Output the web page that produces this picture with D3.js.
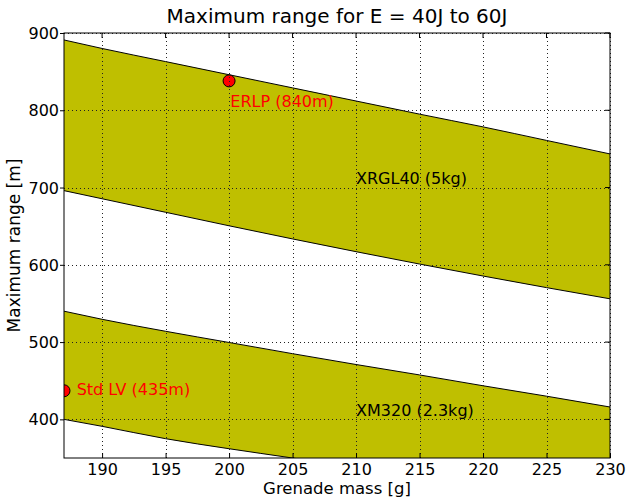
<!DOCTYPE html>
<html>
<head>
<meta charset="utf-8">
<script src="https://cdn.jsdelivr.net/npm/d3@7"></script>
<style>
  body { margin: 0; background: #fff; }
  text { font-family: "DejaVu Sans", sans-serif; }
</style>
</head>
<body>
<div id="chart"></div>
<script>
// grenade mass [g] where the band edges were read
var masses = [187, 190, 195, 200, 205, 210, 215, 220, 225, 230];

// XRGL40 (5kg) band: 60J upper edge, 40J lower edge
var xrglHigh = [891, 880, 863, 846, 829, 812, 795, 778.5, 761, 743.5];
var xrglLow  = [696, 685.5, 668, 650.5, 633.5, 617, 601, 585.5, 570.5, 556];

// XM320 (2.3kg) band
var xmHigh = [540, 529.5, 514, 499.5, 485, 471, 457.5, 443.5, 430, 416];
var xmLow  = [400, 391, 375, 362, 350, 338, 326.5, 315.5, 305, 295];

// marked launchers
var points = [
  { name: "ERLP (840m)", mass: 200, range: 838 },
  { name: "Std LV (435m)", mass: 187, range: 437 }
];

var xTicks = [190, 195, 200, 205, 210, 215, 220, 225, 230];
var yTicks = [400, 500, 600, 700, 800, 900];

var width = 629, height = 497;
var margin = { top: 33, right: 19, bottom: 39, left: 64 };
var w = width - margin.left - margin.right;
var h = height - margin.top - margin.bottom;

var svg = d3.select("#chart").append("svg")
    .attr("width", width)
    .attr("height", height);

var x = d3.scaleLinear().domain([187, 230]).range([0, w]);
var y = d3.scaleLinear().domain([350, 900]).range([h, 0]);

var g = svg.append("g").attr("transform", "translate(" + margin.left + "," + margin.top + ")");

svg.append("defs").append("clipPath").attr("id", "plot")
    .append("rect").attr("width", w).attr("height", h);

var plot = g.append("g").attr("clip-path", "url(#plot)");

// bands
var bands = [
  { high: xrglHigh, low: xrglLow },
  { high: xmHigh, low: xmLow }
];
var area = d3.area()
    .curve(d3.curveMonotoneX)
    .x(function(d) { return x(d.m); })
    .y0(function(d) { return y(d.lo); })
    .y1(function(d) { return y(d.hi); });
var line = d3.line()
    .curve(d3.curveMonotoneX)
    .x(function(d) { return x(d[0]); })
    .y(function(d) { return y(d[1]); });

bands.forEach(function(b) {
  var rows = masses.map(function(m, i) { return { m: m, hi: b.high[i], lo: b.low[i] }; });
  plot.append("path").attr("d", area(rows)).attr("fill", "#bfbf00");
  plot.append("path").attr("d", line(d3.zip(masses, b.high)))
      .attr("fill", "none").attr("stroke", "#000").attr("stroke-width", 1);
  plot.append("path").attr("d", line(d3.zip(masses, b.low)))
      .attr("fill", "none").attr("stroke", "#000").attr("stroke-width", 1);
});

// grid (dotted, snapped to pixels)
var grid = g.append("g");
xTicks.forEach(function(t) {
  var px = Math.round(x(t)) + 0.5;
  grid.append("line").attr("x1", px).attr("x2", px).attr("y1", 0).attr("y2", h)
      .attr("stroke", "#222").attr("stroke-width", 1).attr("stroke-dasharray", "1,3");
});
yTicks.forEach(function(t) {
  var py = Math.round(y(t)) + 0.5;
  grid.append("line").attr("x1", 0).attr("x2", w).attr("y1", py).attr("y2", py)
      .attr("stroke", "#222").attr("stroke-width", 1).attr("stroke-dasharray", "1,3");
});

// labels inside the plot
plot.append("text").attr("x", x(210)).attr("y", y(705))
    .attr("font-size", 16).text("XRGL40 (5kg)");
plot.append("text").attr("x", x(210)).attr("y", y(405))
    .attr("font-size", 16).text("XM320 (2.3kg)");

// points
plot.selectAll("circle").data(points).enter().append("circle")
    .attr("cx", function(d) { return x(d.mass); })
    .attr("cy", function(d) { return y(d.range); })
    .attr("r", 6)
    .attr("fill", "red").attr("stroke", "#000").attr("stroke-width", 1);

plot.append("text").attr("x", x(200.1)).attr("y", y(804))
    .attr("font-size", 16).attr("fill", "red").text(points[0].name);
g.append("text").attr("x", x(188)).attr("y", y(431))
    .attr("font-size", 16).attr("fill", "red").text(points[1].name);

// axes
var xAxis = d3.axisBottom(x).tickValues(xTicks).tickSizeInner(-5).tickSizeOuter(0);
var yAxis = d3.axisLeft(y).tickValues(yTicks).tickSizeInner(4).tickSizeOuter(0);

var gx = g.append("g").attr("transform", "translate(0," + h + ")").call(xAxis);
var gy = g.append("g").call(yAxis);
[gx, gy].forEach(function(a) {
  a.select(".domain").remove();
  a.selectAll("text").attr("font-size", 16).attr("fill", "#000")
      .style("font-family", "DejaVu Sans, sans-serif");
  a.selectAll("line").attr("stroke", "#000");
});
gx.selectAll("text").attr("dy", null).attr("y", 17);
gy.selectAll("text").attr("dy", "0.35em").attr("x", -5);

// top and right inward ticks
xTicks.forEach(function(t) {
  g.append("line").attr("x1", x(t)).attr("x2", x(t)).attr("y1", 0).attr("y2", 5).attr("stroke", "#000");
});
yTicks.forEach(function(t) {
  g.append("line").attr("x1", w - 5).attr("x2", w).attr("y1", y(t)).attr("y2", y(t)).attr("stroke", "#000");
});

// frame
g.append("rect").attr("width", w).attr("height", h)
    .attr("fill", "none").attr("stroke", "#000").attr("stroke-width", 1);

// titles
svg.append("text").attr("x", margin.left + w / 2).attr("y", 23)
    .attr("text-anchor", "middle").attr("font-size", 20)
    .text("Maximum range for E = 40J to 60J");
svg.append("text").attr("x", margin.left + w / 2).attr("y", 494)
    .attr("text-anchor", "middle").attr("font-size", 16.5)
    .text("Grenade mass [g]");
svg.append("text")
    .attr("transform", "translate(20," + (margin.top + h / 2) + ") rotate(-90)")
    .attr("text-anchor", "middle").attr("font-size", 17)
    .text("Maximum range [m]");
</script>
</body>
</html>
